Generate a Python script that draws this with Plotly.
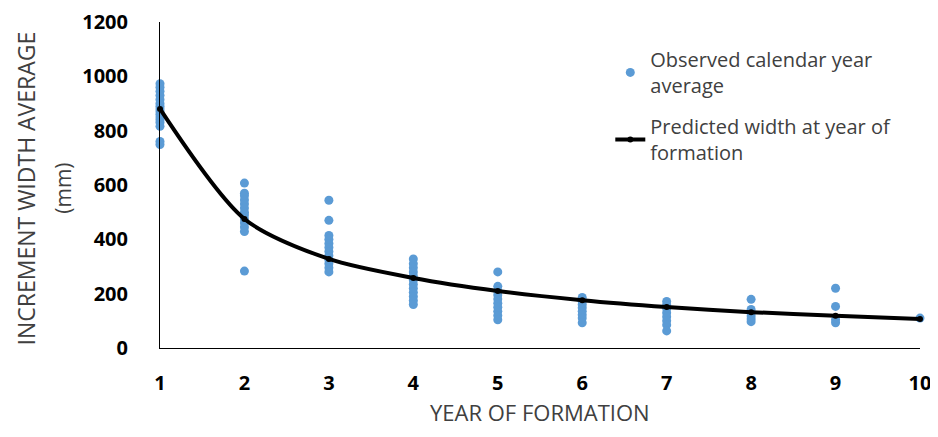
import plotly.graph_objects as go

# ---- data ----
obs_year_1 = [973, 960, 945, 930, 915, 900, 890, 880, 870, 860, 850, 840, 830, 816, 760, 749]
obs_year_2 = [607, 570, 560, 545, 530, 515, 500, 490, 475, 460, 445, 429, 283]
obs_year_3 = [544, 470, 414, 400, 385, 370, 355, 340, 325, 310, 295, 280]
obs_year_4 = [328, 310, 295, 280, 265, 250, 235, 220, 205, 190, 175, 160]
obs_year_5 = [280, 227, 210, 195, 180, 165, 150, 135, 120, 104]
obs_year_6 = [186, 172, 160, 148, 135, 122, 110, 93]
obs_year_7 = [171, 158, 145, 130, 115, 100, 85, 63]
obs_year_8 = [179, 142, 130, 118, 107, 97]
obs_year_9 = [220, 153, 104, 93]
obs_year_10 = [110]

years = [1, 2, 3, 4, 5, 6, 7, 8, 9, 10]
predicted = [880, 475, 328, 258, 210, 176, 151, 132, 119, 107]

y_ticks = [0, 200, 400, 600, 800, 1000, 1200]

observed = [obs_year_1, obs_year_2, obs_year_3, obs_year_4, obs_year_5,
            obs_year_6, obs_year_7, obs_year_8, obs_year_9, obs_year_10]
obs_x, obs_y = [], []
for yr, vals in zip(years, observed):
    obs_x += [yr] * len(vals)
    obs_y += vals

FONT = "Open Sans"
fig = go.Figure()
fig.add_trace(go.Scatter(
    x=obs_x, y=obs_y, mode="markers",
    name="Observed calendar year<br>average", legendgroup="obs",
    marker=dict(color="#5B9BD5", size=9),
    cliponaxis=False,
))
fig.add_trace(go.Scatter(
    x=years, y=predicted, mode="lines+markers",
    name="Predicted width at year of<br>formation", legendgroup="pred",
    line=dict(color="black", width=4, shape="spline", smoothing=0.8),
    marker=dict(color="black", size=6),
    cliponaxis=False,
))

fig.update_layout(
    width=938, height=437,
    margin=dict(l=152, r=26, t=14, b=97),
    paper_bgcolor="white", plot_bgcolor="white",
    font=dict(family=FONT, color="#404040"),
    showlegend=True,
    legend=dict(
        x=0.5925, y=0.945, xanchor="left", yanchor="top",
        font=dict(size=20, color="#404040", family=FONT),
        bgcolor="rgba(0,0,0,0)", traceorder="grouped", tracegroupgap=12,
    ),
    xaxis=dict(
        range=[1, 10], tickvals=years, automargin=False,
        showgrid=False, zeroline=False,
        showline=True, linecolor="black", linewidth=1,
        ticks="", ticklabelstandoff=17,
        tickfont=dict(size=20, color="black", family=FONT, weight="bold"),
    ),
    yaxis=dict(
        range=[0, 1200], tickvals=y_ticks, automargin=False,
        showgrid=False, zeroline=False,
        showline=True, linecolor="black", linewidth=1,
        ticks="", ticklabelstandoff=27,
        tickfont=dict(size=20, color="black", family=FONT, weight="bold"),
    ),
)

fig.add_annotation(
    text="YEAR OF FORMATION",
    xref="paper", yref="paper", x=0.5, y=-0.195,
    xanchor="center", yanchor="middle", showarrow=False,
    font=dict(size=22, color="#404040", family=FONT),
)
fig.add_annotation(
    text="INCREMENT WIDTH AVERAGE", textangle=-90,
    xref="paper", yref="paper", x=-0.176, y=0.49,
    xanchor="center", yanchor="middle", showarrow=False,
    font=dict(size=23, color="#404040", family=FONT),
)
fig.add_annotation(
    text="(mm)", textangle=-90,
    xref="paper", yref="paper", x=-0.127, y=0.49,
    xanchor="center", yanchor="middle", showarrow=False,
    font=dict(size=21, color="#404040", family=FONT),
)

fig.write_html("out.html")
